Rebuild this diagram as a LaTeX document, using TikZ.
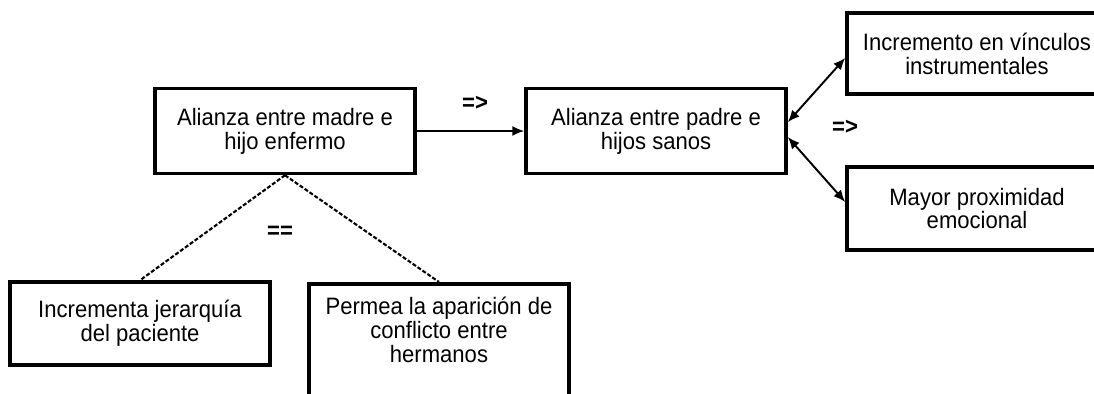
\documentclass[tikz,border=0pt]{standalone}
\usepackage{fontspec}
\setmainfont{Liberation Sans}[FakeStretch=0.93]
\usetikzlibrary{arrows.meta}
\tikzset{
  caja/.style={draw, line width=2pt, minimum width=5.2cm, minimum height=1.7cm, align=center, inner sep=2pt},
  signo/.style={font=\fontsize{13.5pt}{14pt}\selectfont\bfseries},
  flecha/.style={line width=1.1pt, -{Latex[length=2.4mm,width=2mm]}},
  doble/.style={line width=1.1pt, {Latex[length=2.4mm,width=2mm]}-{Latex[length=2.4mm,width=2mm]}},
  punteada/.style={line width=1.2pt, dash pattern=on 2.3pt off 1.1pt}
}

\begin{document}
\begin{tikzpicture}[x=0.02cm, y=-0.02cm, font=\fontsize{13.5pt}{13.6pt}\selectfont]
    \useasboundingbox (0,0) rectangle (1094,393);
    \clip (0,0) rectangle (1094,393);
    \node (madre) [caja] at (285,131) {Alianza entre madre e\\hijo enfermo};
    \node (padre) [caja] at (656,131) {Alianza entre padre e\\hijos sanos};
    \node (vinculos) [caja, minimum height=1.62cm] at (977,53.5) {Incremento en vínculos\\instrumentales};
    \node (proximidad) [caja, minimum height=1.66cm] at (977,208.5) {Mayor proximidad\\emocional};
    \node (jerarquia) [caja, minimum height=1.66cm] at (140,323.5) {Incrementa jerarquía\\del paciente};
    \node (conflicto) [caja, minimum height=2.6cm, anchor=north] at (439,282) {};
    \node (conflictotexto) [align=center] at (439,330) {Permea la aparición de\\conflicto entre\\hermanos};

    \node (sig1) [signo] at (475,103) {=>};
    \node (sig2) [signo] at (280,232) {==};
    \node (sig3) [signo] at (845,127) {=>};

    \draw[flecha] (madre) -- (padre);
    \draw[doble] ([yshift=5pt]padre.east) -- ([yshift=-2.5pt]vinculos.west);
    \draw[doble] ([yshift=-3.4pt]padre.east) -- ([yshift=3.7pt]proximidad.west);
    \draw[punteada] (madre.south) -- (jerarquia.north);
    \draw[punteada] (madre.south) -- (conflicto.north);
\end{tikzpicture}
\end{document}
